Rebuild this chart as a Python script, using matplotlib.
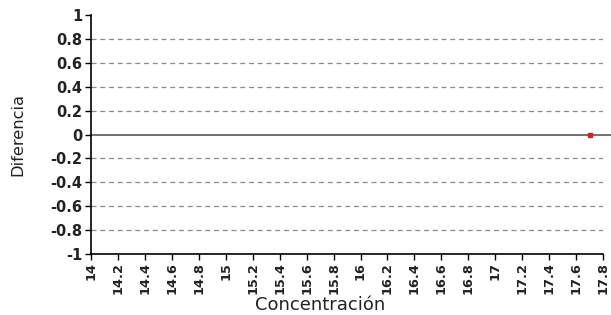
import matplotlib
matplotlib.use("Agg")
import matplotlib.pyplot as plt
import numpy as np

x_vals = [17.7]
y_vals = [0.0]
x_ticks = [14, 14.2, 14.4, 14.6, 14.8, 15, 15.2, 15.4, 15.6, 15.8, 16, 16.2, 16.4, 16.6, 16.8, 17, 17.2, 17.4, 17.6, 17.8]
x_tick_labels = ["14", "14.2", "14.4", "14.6", "14.8", "15", "15.2", "15.4", "15.6", "15.8", "16", "16.2", "16.4", "16.6", "16.8", "17", "17.2", "17.4", "17.6", "17.8"]
y_ticks = [-1, -0.8, -0.6, -0.4, -0.2, 0, 0.2, 0.4, 0.6, 0.8, 1]
y_tick_labels = ["-1", "-0.8", "-0.6", "-0.4", "-0.2", "0", "0.2", "0.4", "0.6", "0.8", "1"]

fig = plt.figure(figsize=(6.11, 3.15), dpi=100)
ax = fig.add_axes([0.149, 0.194, 0.838, 0.758])
ax.set_xlim(14, 17.8)
ax.set_ylim(-1, 1)

for yt in y_ticks:
    if yt in (-1, 0, 1):
        continue
    ax.axhline(yt, color="#8a8a8a", linestyle=(0, (4, 3)), linewidth=0.9, zorder=1)
ax.plot([14, 17.88], [0, 0], color="#4a4a4a", linewidth=1.1, clip_on=False, zorder=2)

ax.scatter(x_vals, y_vals, s=5, color="#e02020", zorder=3, marker="s")

ax.set_xticks(x_ticks)
ax.set_xticklabels(x_tick_labels, rotation=90, fontsize=9.3, fontweight="bold")
ax.set_yticks(y_ticks)
ax.set_yticklabels(y_tick_labels, fontsize=10.5, fontweight="bold")
ax.tick_params(axis="both", direction="out", length=4, width=1, pad=2, colors="black")
for lab in ax.get_xticklabels() + ax.get_yticklabels():
    lab.set_color("#222222")
for side in ("top", "right"):
    ax.spines[side].set_visible(False)
for side in ("left", "bottom"):
    ax.spines[side].set_linewidth(1.2)

ax.set_xlabel("Concentración", fontsize=13, color="#222222")
ax.xaxis.set_label_coords(0.447, -0.175)
ax.set_ylabel("Diferencia", fontsize=11.7, color="#222222")
ax.yaxis.set_label_coords(-0.129, 0.5)

fig.savefig("out.png", dpi=100)
